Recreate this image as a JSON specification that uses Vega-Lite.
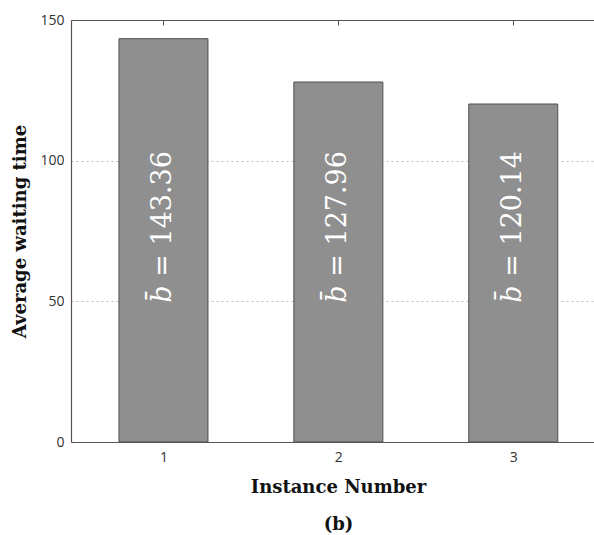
{
  "$schema": "https://vega.github.io/schema/vega-lite/v6.json",
  "width": 523,
  "height": 422,
  "autosize": {"type": "none"},
  "padding": {"left": 71, "top": 20, "right": 0, "bottom": 93},
  "background": "white",
  "config": {"view": {"stroke": null}},
  "data": {
    "values": [
      {"instance": 1, "avg": 143.36, "label": "= 143.36"},
      {"instance": 2, "avg": 127.96, "label": "= 127.96"},
      {"instance": 3, "avg": 120.14, "label": "= 120.14"}
    ]
  },
  "resolve": {"axis": {"x": "independent"}},
  "layer": [
    {
      "mark": {"type": "bar", "size": 89, "fill": "#8f8f8f", "stroke": "#505050", "strokeWidth": 1},
      "encoding": {
        "x": {
          "field": "instance",
          "type": "quantitative",
          "scale": {"domain": [0.5, 3.433], "nice": false, "zero": false},
          "axis": {
            "values": [1, 2, 3],
            "format": "d",
            "ticks": false,
            "grid": false,
            "domainColor": "#555555",
            "domainWidth": 1.2,
            "labelFont": "Open Sans",
            "labelFontSize": 14,
            "labelColor": "#333333",
            "labelPadding": 8,
            "title": ["Instance Number", "(b)"],
            "titleFont": "DejaVu Serif",
            "titleFontWeight": "bold",
            "titleFontSize": 18,
            "titleColor": "#111111",
            "titlePadding": 14,
            "titleLineHeight": 37,
            "titleX": 267
          }
        },
        "y": {
          "field": "avg",
          "type": "quantitative",
          "scale": {"domain": [0, 150], "nice": false},
          "axis": {
            "values": [0, 50, 100, 150],
            "ticks": false,
            "grid": true,
            "gridColor": "#bdbdbd",
            "gridDash": [2, 3],
            "gridWidth": 1,
            "domainColor": "#555555",
            "domainWidth": 1.2,
            "labelFont": "Open Sans",
            "labelFontSize": 14,
            "labelColor": "#333333",
            "labelPadding": 7,
            "title": "Average waiting time",
            "titleFont": "DejaVu Serif",
            "titleFontWeight": "bold",
            "titleFontSize": 18,
            "titleColor": "#111111",
            "titlePadding": 10
          }
        }
      }
    },
    {
      "mark": {"type": "text", "text": "b\u0304", "font": "DejaVu Serif", "fontStyle": "italic", "fontSize": 27, "fill": "white", "angle": 270, "align": "left", "baseline": "middle"},
      "encoding": {
        "x": {
          "field": "instance",
          "type": "quantitative",
          "axis": {
            "orient": "top",
            "values": [1, 2, 3],
            "labels": false,
            "title": null,
            "grid": false,
            "ticks": true,
            "tickSize": -5,
            "tickColor": "#555555",
            "domainColor": "#555555",
            "domainWidth": 1.2
          }
        },
        "y": {"datum": 49.5, "type": "quantitative"}
      }
    },
    {
      "mark": {"type": "text", "font": "DejaVu Serif", "fontSize": 27, "fill": "white", "angle": 270, "align": "left", "baseline": "middle", "dx": 26},
      "encoding": {
        "x": {"field": "instance", "type": "quantitative", "axis": null},
        "y": {"datum": 49.5, "type": "quantitative"},
        "text": {"field": "label"}
      }
    }
  ]
}
